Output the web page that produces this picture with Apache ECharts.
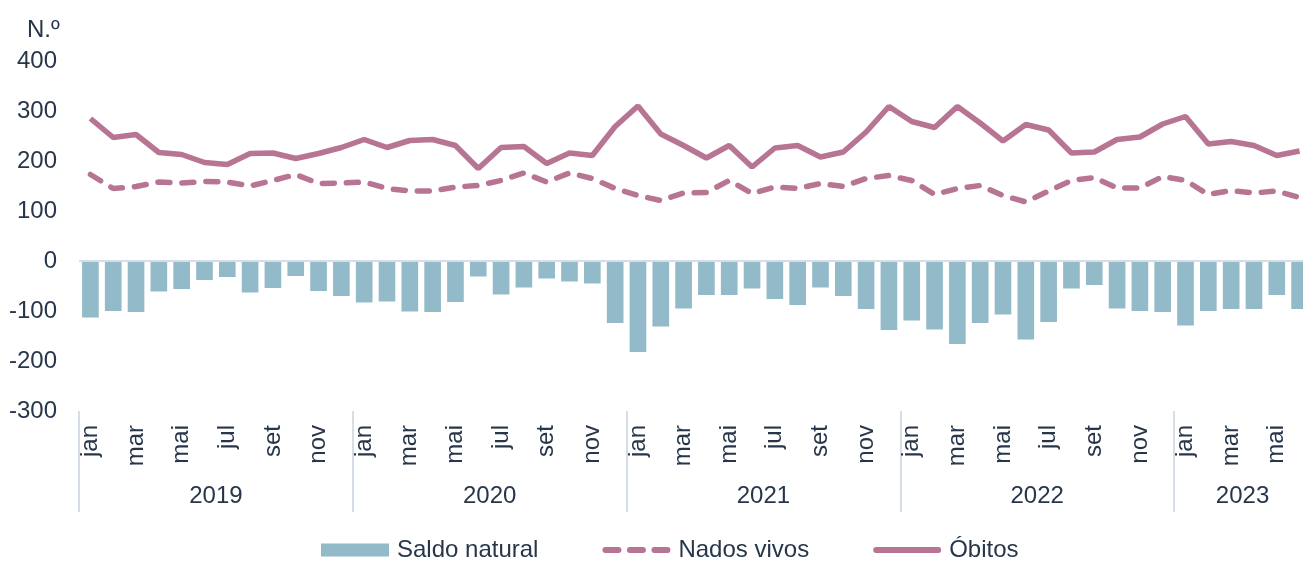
<!DOCTYPE html>
<html>
<head>
<meta charset="utf-8">
<script src="https://cdn.jsdelivr.net/npm/echarts@6/dist/echarts.min.js"></script>
<style>
html,body{margin:0;padding:0;background:#fff;}
#chart{width:1303px;height:561px;}
</style>
</head>
<body>
<div id="chart"></div>
<script>
const monthNames = ['jan','fev','mar','abr','mai','jun','jul','ago','set','out','nov','dez'];
const years = ['2019','2020','2021','2022','2023'];
const monthsPerYear = [12, 12, 12, 12, 6];

const saldoNatural = [
  -113,-100,-102,-61,-56,-38,-32,-63,-54,-30,-60,-70,
  -83,-81,-101,-102,-82,-31,-67,-53,-35,-41,-45,-124,
  -182,-131,-95,-68,-68,-55,-76,-88,-53,-70,-96,-138,
  -119,-137,-166,-124,-107,-157,-122,-55,-48,-95,-100,-102,
  -129,-100,-96,-96,-68,-96
];
const nadosVivos = [
  173,145,149,158,156,159,158,150,161,173,155,156,
  158,145,140,140,148,151,161,176,158,176,165,145,
  131,121,136,137,161,135,148,145,155,149,165,171,
  161,133,145,151,131,118,140,161,167,146,146,169,
  161,133,141,136,140,127
];
const obitos = [
  285,247,253,217,213,197,193,215,216,205,215,227,
  243,227,241,243,231,185,227,229,195,216,211,269,
  310,254,231,206,231,188,226,231,208,218,258,309,
  279,267,309,276,240,273,262,216,218,243,248,274,
  289,234,239,231,211,220
];
const yTicks = [-300, -200, -100, 0, 100, 200, 300, 400];

// build categories and year label positions
const categories = [];
const yearCenters = {};
let idx = 0;
years.forEach((y, k) => {
  const n = monthsPerYear[k];
  for (let m = 0; m < n; m++) categories.push(monthNames[m]);
  yearCenters[idx + n / 2] = y;
  idx += n;
});
const total = categories.length;

const textColor = '#27364a';
const font = 'Liberation Sans, Arial, sans-serif';
const fs = 24;
const sepColor = '#d5dde7';
const barColor = '#93bac8';
const lineColor = '#b77593';

const solidIcon = 'path://M3,0 H65 A3,3 0 0 1 65,6 H3 A3,3 0 0 1 3,0 Z';
const dashIcon = 'path://M3,0 H16 A3,3 0 0 1 16,6 H3 A3,3 0 0 1 3,0 Z ' +
                 'M27.5,0 H40.5 A3,3 0 0 1 40.5,6 H27.5 A3,3 0 0 1 27.5,0 Z ' +
                 'M52,0 H65 A3,3 0 0 1 65,6 H52 A3,3 0 0 1 52,0 Z';

const chart = echarts.init(document.getElementById('chart'));
chart.setOption({
  animation: false,
  textStyle: { fontFamily: font, color: textColor },
  title: {
    text: 'N.º', left: 22, top: 13,
    textStyle: { fontFamily: font, fontSize: fs, fontWeight: 'normal', color: textColor }
  },
  grid: { left: 79, width: 1232, top: 61, height: 350, containLabel: false, outerBoundsMode: 'none' },
  legend: {
    left: 316, top: 533,
    itemWidth: 68, itemHeight: 13, itemGap: 64,
    symbolKeepAspect: true,
    textStyle: { fontFamily: font, fontSize: fs, color: textColor, padding: [0, 0, 0, 3] },
    data: [
      { name: 'Saldo natural', icon: 'rect' },
      { name: 'Nados vivos', icon: dashIcon },
      { name: 'Óbitos', icon: solidIcon }
    ]
  },
  xAxis: [
    {
      type: 'category',
      data: categories,
      boundaryGap: true,
      position: 'bottom',
      axisLine: { show: false, onZero: false },
      axisTick: {
        show: true,
        interval: (i) => i % 12 === 0,
        length: 101,
        lineStyle: { color: sepColor, width: 2 }
      },
      axisLabel: {
        interval: 1, rotate: 90, margin: 14,
        fontSize: fs, fontFamily: font, color: textColor
      },
      splitLine: { show: false }
    },
    {
      type: 'value',
      min: 0, max: total, interval: 3,
      position: 'bottom',
      offset: 67,
      axisLine: { show: false },
      axisTick: { show: false },
      splitLine: { show: false },
      axisLabel: {
        margin: 6, fontSize: fs, fontFamily: font, color: textColor,
        showMinLabel: true, showMaxLabel: true,
        formatter: (v) => yearCenters[v] || ''
      }
    }
  ],
  yAxis: {
    type: 'value',
    min: yTicks[0], max: yTicks[yTicks.length - 1], interval: 100,
    axisLine: { show: false },
    axisTick: { show: false },
    splitLine: { show: false },
    axisLabel: { margin: 22, fontSize: fs, fontFamily: font, color: textColor, padding: [4, 0, 0, 0] }
  },
  series: [
    {
      name: 'Saldo natural',
      type: 'bar',
      xAxisIndex: 0,
      data: saldoNatural,
      barCategoryGap: '27%',
      itemStyle: { color: barColor },
      markLine: {
        silent: true,
        symbol: 'none',
        label: { show: false },
        lineStyle: { color: sepColor, width: 2, type: 'solid' },
        data: [{ yAxis: 0 }]
      }
    },
    {
      name: 'Nados vivos',
      type: 'line',
      xAxisIndex: 0,
      data: nadosVivos,
      symbol: 'none',
      showSymbol: false,
      lineStyle: { color: lineColor, width: 5.5, type: [12, 12], cap: 'round' },
      itemStyle: { color: lineColor }
    },
    {
      name: 'Óbitos',
      type: 'line',
      xAxisIndex: 0,
      data: obitos,
      symbol: 'none',
      showSymbol: false,
      lineStyle: { color: lineColor, width: 5.5 },
      itemStyle: { color: lineColor }
    }
  ]
});
</script>
</body>
</html>
